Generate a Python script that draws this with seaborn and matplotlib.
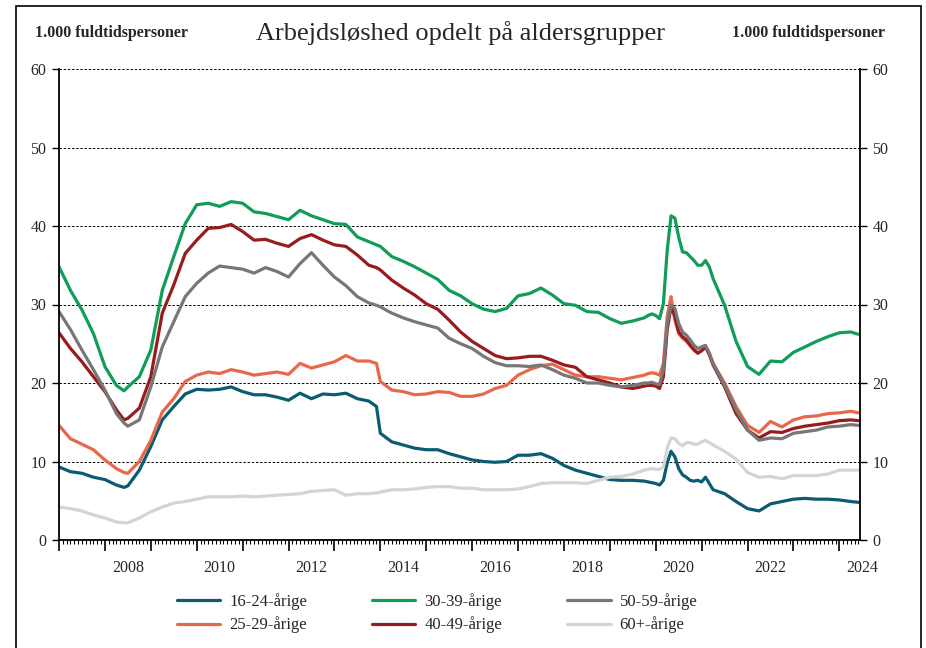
import numpy as np
import pandas as pd
import seaborn as sns
import matplotlib.pyplot as plt
from matplotlib.ticker import MultipleLocator
from matplotlib.patches import Rectangle

# observation months (quarterly, monthly around the 2020 spike)
months = (
    ["2007-01", "2007-04", "2007-07", "2007-10"]
    + ["2008-01", "2008-04", "2008-06", "2008-07", "2008-10"]
    + [f"{y}-{m}" for y in range(2009, 2013) for m in ("01", "04", "07", "10")]
    + ["2013-01", "2013-04", "2013-07", "2013-10", "2013-12"]
    + [f"{y}-{m}" for y in range(2014, 2019) for m in ("01", "04", "07", "10")]
    + ["2019-01", "2019-04", "2019-07", "2019-10", "2019-11", "2019-12"]
    + [f"2020-{m:02d}" for m in range(1, 13)]
    + ["2021-01", "2021-02", "2021-03", "2021-04", "2021-07", "2021-10"]
    + [f"{y}-{m}" for y in (2022, 2023) for m in ("01", "04", "07", "10")]
    + ["2024-01", "2024-04", "2024-06"]
)

age_16_24 = [
    9.3, 8.7, 8.5, 8.0,
    7.7, 7.0, 6.7, 6.9, 8.9,
    11.9, 15.3, 17.0, 18.6,
    19.2, 19.1, 19.2, 19.5,
    18.9, 18.5, 18.5, 18.2,
    17.8, 18.7, 18.0, 18.6,
    18.5, 18.7, 18.0, 17.7, 17.0,
    13.6, 12.5, 12.1, 11.7,
    11.5, 11.5, 11.0, 10.6,
    10.2, 10.0, 9.9, 10.0,
    10.8, 10.8, 11.0, 10.4,
    9.5, 8.9, 8.5, 8.1,
    7.7, 7.6, 7.6, 7.5, 7.4, 7.3,
    7.2, 7.0, 7.6, 9.8, 11.3, 10.6, 9.1, 8.3, 8.0, 7.6, 7.5, 7.6,
    7.4, 8.0, 7.2, 6.4, 5.9, 4.9,
    4.0, 3.7, 4.6, 4.9,
    5.2, 5.3, 5.2, 5.2,
    5.1, 4.9, 4.8,
]
age_25_29 = [
    14.6, 12.9, 12.2, 11.5,
    10.2, 9.1, 8.6, 8.5, 10.0,
    12.7, 16.3, 18.0, 20.2,
    21.0, 21.4, 21.2, 21.7,
    21.4, 21.0, 21.2, 21.4,
    21.1, 22.5, 21.9, 22.3,
    22.7, 23.5, 22.8, 22.8, 22.5,
    20.2, 19.1, 18.9, 18.5,
    18.6, 18.9, 18.8, 18.3,
    18.3, 18.6, 19.3, 19.7,
    21.0, 21.7, 22.2, 22.4,
    21.7, 21.0, 20.8, 20.8,
    20.6, 20.4, 20.7, 21.0, 21.2, 21.3,
    21.2, 21.0, 22.5, 28.5, 31.0, 28.0, 26.3, 25.7, 25.3, 24.8, 24.3, 23.8,
    24.2, 24.7, 23.8, 22.5, 20.0, 17.0,
    14.6, 13.7, 15.1, 14.4,
    15.3, 15.7, 15.8, 16.1,
    16.2, 16.4, 16.2,
]
age_30_39 = [
    34.8, 31.8, 29.3, 26.3,
    22.1, 19.7, 19.0, 19.5, 20.8,
    24.2, 31.8, 36.1, 40.3,
    42.7, 42.9, 42.5, 43.1,
    42.9, 41.8, 41.6, 41.2,
    40.8, 42.0, 41.3, 40.8,
    40.3, 40.2, 38.6, 38.0, 37.6,
    37.4, 36.1, 35.5, 34.8,
    34.0, 33.2, 31.8, 31.1,
    30.1, 29.4, 29.1, 29.5,
    31.1, 31.4, 32.1, 31.2,
    30.1, 29.9, 29.1, 29.0,
    28.2, 27.6, 27.9, 28.3, 28.6, 28.8,
    28.6, 28.2, 30.1, 36.9, 41.3, 41.0, 38.6, 36.7, 36.6, 36.1, 35.6, 35.0,
    35.0, 35.6, 34.8, 33.3, 29.9, 25.3,
    22.1, 21.1, 22.8, 22.7,
    23.9, 24.6, 25.3, 25.9,
    26.4, 26.5, 26.2,
]
age_40_49 = [
    26.4, 24.4, 22.7, 20.8,
    18.9, 16.6, 15.3, 15.5, 16.8,
    20.8, 28.9, 32.5, 36.5,
    38.2, 39.7, 39.8, 40.2,
    39.3, 38.2, 38.3, 37.8,
    37.4, 38.4, 38.9, 38.2,
    37.6, 37.4, 36.3, 35.0, 34.7,
    34.4, 33.1, 32.1, 31.2,
    30.1, 29.4, 28.0, 26.5,
    25.3, 24.4, 23.5, 23.1,
    23.2, 23.4, 23.4, 22.9,
    22.3, 22.0, 20.8, 20.4,
    20.0, 19.5, 19.3, 19.6, 19.7, 19.7,
    19.6, 19.3, 20.8, 26.8, 29.7, 28.5, 26.5, 25.9, 25.5, 24.8, 24.2, 23.8,
    24.1, 24.6, 23.6, 22.3, 19.5, 16.1,
    14.0, 13.0, 13.8, 13.7,
    14.2, 14.5, 14.7, 14.9,
    15.2, 15.3, 15.2,
]
age_50_59 = [
    29.1, 26.8, 24.2, 21.7,
    19.1, 16.1, 14.9, 14.5, 15.3,
    19.5, 24.6, 27.8, 31.0,
    32.7, 34.0, 34.9, 34.7,
    34.5, 34.0, 34.7, 34.2,
    33.5, 35.2, 36.6, 35.0,
    33.5, 32.4, 31.0, 30.2, 29.9,
    29.7, 28.9, 28.3, 27.8,
    27.4, 27.0, 25.7, 25.0,
    24.4, 23.4, 22.6, 22.2,
    22.2, 22.1, 22.3, 21.7,
    21.0, 20.6, 20.0, 20.0,
    19.7, 19.5, 19.7, 20.0, 20.0, 20.1,
    19.9, 19.8, 21.7, 27.6, 29.9, 29.5, 27.6, 26.5, 26.1, 25.5, 24.8, 24.4,
    24.6, 24.8, 23.8, 22.5, 19.7, 16.6,
    14.0, 12.7, 13.0, 12.9,
    13.6, 13.8, 14.0, 14.4,
    14.5, 14.7, 14.6,
]
age_60_plus = [
    4.2, 4.0, 3.7, 3.2,
    2.8, 2.3, 2.2, 2.2, 2.8,
    3.6, 4.2, 4.7, 4.9,
    5.2, 5.5, 5.5, 5.5,
    5.6, 5.5, 5.6, 5.7,
    5.8, 5.9, 6.2, 6.3,
    6.4, 5.7, 5.9, 5.9, 6.0,
    6.1, 6.4, 6.4, 6.5,
    6.7, 6.8, 6.8, 6.6,
    6.6, 6.4, 6.4, 6.4,
    6.5, 6.8, 7.2, 7.3,
    7.3, 7.3, 7.2, 7.6,
    8.0, 8.1, 8.4, 8.9, 9.0, 9.1,
    9.0, 9.0, 9.3, 11.7, 13.0, 12.9, 12.3, 12.0, 12.4, 12.4, 12.2, 12.2,
    12.5, 12.7, 12.4, 12.1, 11.3, 10.3,
    8.6, 8.0, 8.1, 7.8,
    8.2, 8.2, 8.2, 8.4,
    8.9, 8.9, 8.9,
]

labels = ["16-24-årige", "25-29-årige", "30-39-årige",
          "40-49-årige", "50-59-årige", "60+-årige"]
colors = ["#0b5b72", "#e8694a", "#0f9d58", "#981b1e", "#777777", "#d4d4d4"]

dates = pd.to_datetime(months)
year = dates.year + (dates.month - 1) / 12

wide = pd.DataFrame({
    "year": year,
    labels[0]: age_16_24,
    labels[1]: age_25_29,
    labels[2]: age_30_39,
    labels[3]: age_40_49,
    labels[4]: age_50_59,
    labels[5]: age_60_plus,
})
df = wide.melt(id_vars="year", var_name="gruppe", value_name="ledige")

sns.set_style("white")
plt.rcParams["font.family"] = ["Liberation Serif", "DejaVu Serif"]

fig = plt.figure(figsize=(9.26, 6.48), dpi=100)
ax = fig.add_axes([59 / 926, 1 - 540 / 648, 801 / 926, 471 / 648])

sns.lineplot(data=df, x="year", y="ledige", hue="gruppe", hue_order=labels,
             palette=dict(zip(labels, colors)), linewidth=2.3,
             legend=False, ax=ax)

ax.set_xlim(2007.0, 2024.45)
ax.set_ylim(0, 60)
ax.set_xlabel("")
ax.set_ylabel("")

ax.spines["top"].set_visible(False)
for s in ("left", "right", "bottom"):
    ax.spines[s].set_color("black")
    ax.spines[s].set_linewidth(1.3)

ax.set_yticks(np.arange(0, 61, 10))
ax.tick_params(axis="y", which="both", direction="out", length=5, width=1,
               color="black", labelsize=11.5, left=True, right=True,
               labelleft=True, labelright=True, pad=4)
for y in range(10, 61, 10):
    ax.axhline(y, color="black", linewidth=0.7, linestyle=(0, (2.5, 1.8)), zorder=0)

ax.xaxis.set_major_locator(MultipleLocator(1))
ax.xaxis.set_minor_locator(MultipleLocator(1 / 12))
ax.tick_params(axis="x", which="major", direction="out", length=8, width=1.2,
               color="black", labelbottom=False, bottom=True)
ax.tick_params(axis="x", which="minor", direction="out", length=3, width=0.8,
               color="black", bottom=True)
for y in range(2008, 2025, 2):
    ax.text(y + 0.5, -0.06, str(y), transform=ax.get_xaxis_transform(),
            ha="center", va="center", fontsize=11.5)

fig.text(460 / 926, 1 - 33 / 648, "Arbejdsløshed opdelt på aldersgrupper",
         ha="center", va="center", fontsize=19)
fig.text(35 / 926, 1 - 33 / 648, "1.000 fuldtidspersoner",
         ha="left", va="center", fontsize=11.5, fontweight="bold")
fig.text(885 / 926, 1 - 33 / 648, "1.000 fuldtidspersoner",
         ha="right", va="center", fontsize=11.5, fontweight="bold")

handles = ax.get_lines()[:6]
fig.legend(handles, labels, ncol=3, loc="center",
           bbox_to_anchor=(437 / 926, 1 - 613 / 648), frameon=False,
           fontsize=12, handlelength=2.6, handletextpad=0.55,
           columnspacing=3.9, labelspacing=0.42)

fig.add_artist(Rectangle((15.5 / 926, -0.05), 905.5 / 926, 1.05 - 6.5 / 648,
                         transform=fig.transFigure, fill=False,
                         edgecolor="black", linewidth=1.2))

fig.savefig("out.png", dpi=100)
